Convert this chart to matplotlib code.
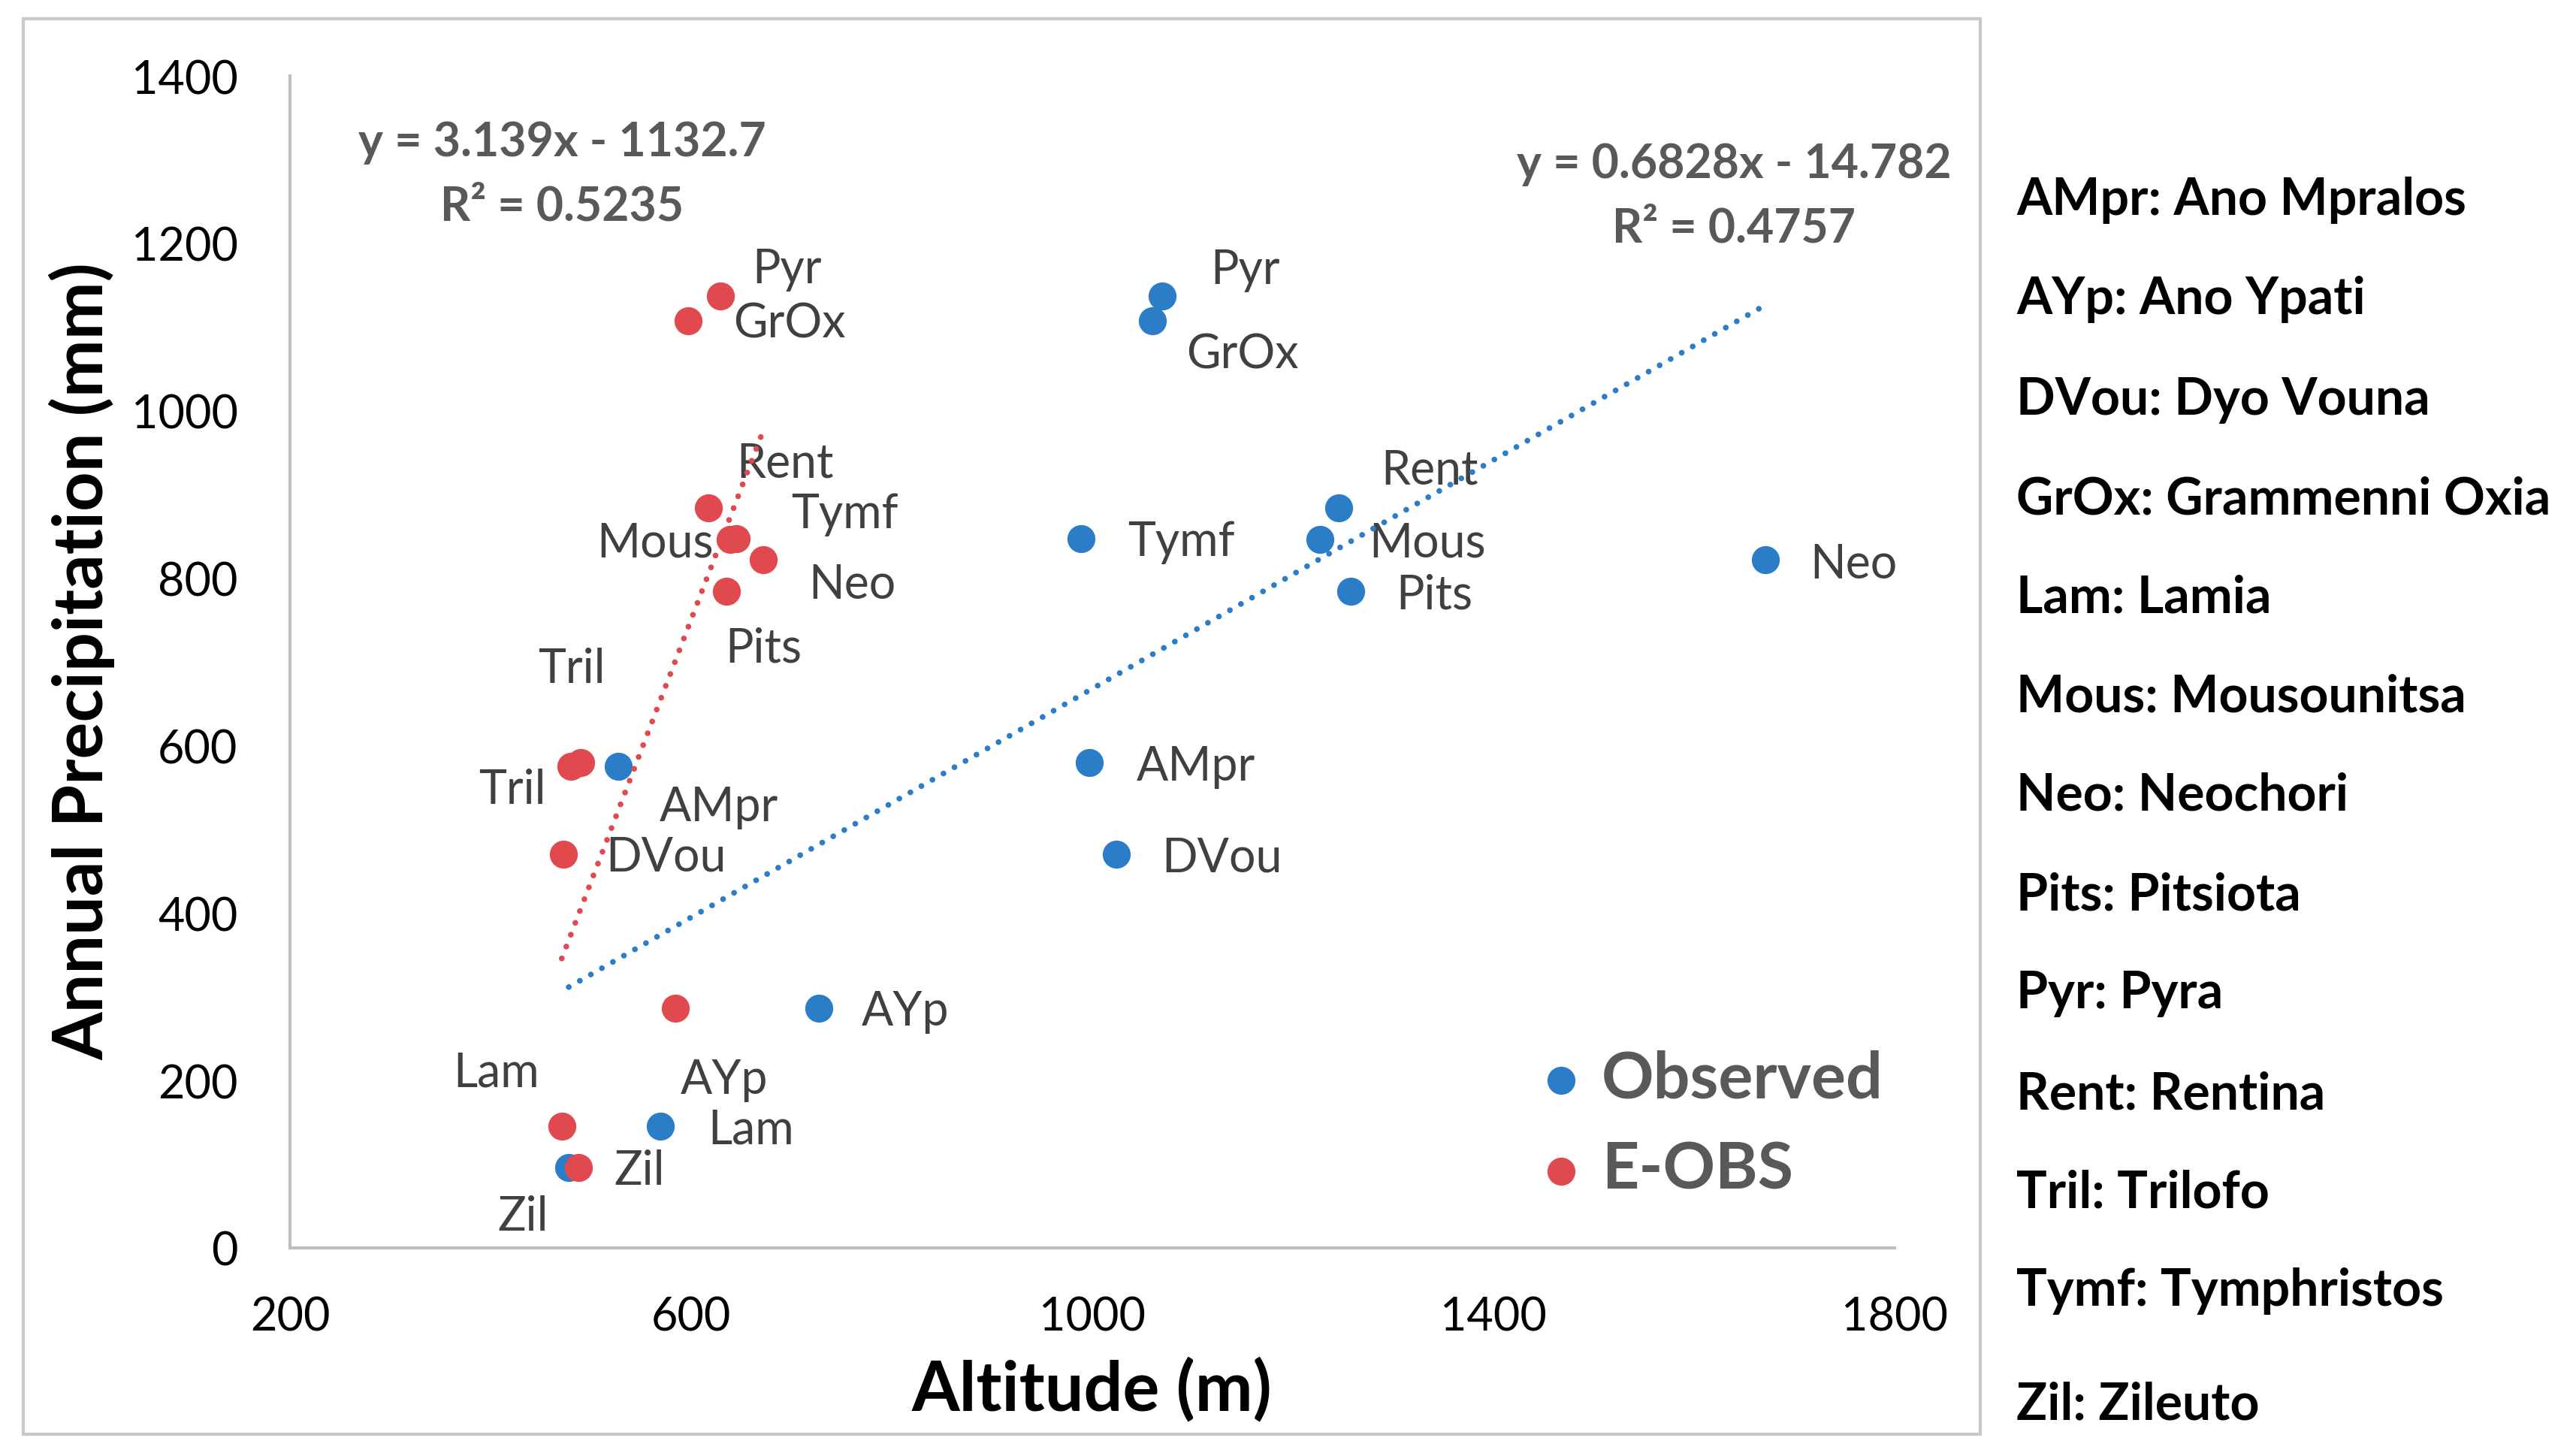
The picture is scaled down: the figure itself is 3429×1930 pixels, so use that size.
import matplotlib
matplotlib.use("Agg")
import matplotlib.pyplot as plt
from matplotlib.patches import Rectangle
import numpy as np

plt.rcParams['font.family'] = ['Lato', 'DejaVu Sans']

# station codes, annual precipitation (mm) and altitude (m) of each series
stations = ['Pyr', 'GrOx', 'Rent', 'Tymf', 'Mous', 'Pits', 'Neo',
            'AMpr', 'DVou', 'AYp', 'Lam', 'Tril', 'Zil']
precip = [1137, 1107, 884, 847, 846, 784, 822, 580, 470, 286, 145, 575, 96]
alt_obs = [1070, 1060, 1246, 989, 1227, 1258, 1671, 997, 1024, 727, 569, 527, 478]
alt_eobs = [629, 597, 617, 645, 639, 635, 672, 490, 473, 584, 471, 480, 488]

# linear trendlines as printed on the chart
fit_obs = [0.6828, -14.782, 0.4757]
fit_eobs = [3.139, -1132.7, 0.5235]

x_ticks = [200, 600, 1000, 1400, 1800]
y_ticks = [0, 200, 400, 600, 800, 1000, 1200, 1400]

station_names = ['AMpr: Ano Mpralos', 'AYp: Ano Ypati', 'DVou: Dyo Vouna',
                 'GrOx: Grammenni Oxia', 'Lam: Lamia', 'Mous: Mousounitsa',
                 'Neo: Neochori', 'Pits: Pitsiota', 'Pyr: Pyra', 'Rent: Rentina',
                 'Tril: Trilofo', 'Tymf: Tymphristos', 'Zil: Zileuto']

# label offsets (points) for the data labels
off_obs = {'Pyr': (79, 25), 'GrOx': (86, -32), 'Rent': (87, 36), 'Tymf': (96, -3),
           'Mous': (103, -3), 'Pits': (80, -3), 'Neo': (85, -4), 'AMpr': (102, -4),
           'DVou': (101, -3), 'AYp': (83, -3), 'Lam': (87, -3), 'Tril': (-101, -22),
           'Zil': (-44, -47)}
off_eobs = {'Pyr': (64, 26), 'GrOx': (97, -2), 'Rent': (74, 43), 'Tymf': (104, 24),
            'Mous': (-72, -3), 'Neo': (85, -24), 'Pits': (36, -54), 'Tril': (1, 94),
            'AMpr': (132, -43), 'DVou': (98, -2), 'AYp': (47, -68), 'Lam': (-63, 52),
            'Zil': (58, -3)}

BLUE = '#2a7dc6'
RED = '#e04a4e'
W, H = 3430, 1931


def fx(px):
    return px / W


def fy(py):
    return 1 - py / H


fig = plt.figure(figsize=(W / 100, H / 100), dpi=100)
ax = fig.add_axes([fx(386), fy(1662), fx(2522) - fx(386), fy(102) - fy(1662)])

fig.patches.append(Rectangle((fx(31), fy(1910)), fx(2636) - fx(31), fy(26) - fy(1910),
                             transform=fig.transFigure, fill=False,
                             edgecolor='#c8c8c8', lw=3, zorder=0))

ax.scatter(alt_obs, precip, s=720, color=BLUE, linewidths=0, zorder=2, label='Observed')
ax.scatter(alt_eobs, precip, s=720, color=RED, linewidths=0, zorder=2.1, label='E-OBS')

for xs, fit, col in [(alt_obs, fit_obs, BLUE), (alt_eobs, fit_eobs, RED)]:
    xl = np.array([min(xs), max(xs)])
    ax.plot(xl, fit[0] * xl + fit[1], color=col, lw=5.5,
            linestyle=(0, (0.01, 2.2)), dash_capstyle='round', zorder=4)

for xs, offs in [(alt_obs, off_obs), (alt_eobs, off_eobs)]:
    for name, xv, yv in zip(stations, xs, precip):
        ax.annotate(name, (xv, yv), xytext=offs[name], textcoords='offset points',
                    ha='center', va='center', fontsize=45, color='#404040', zorder=3)

ax.set_xlim(200, 1800)
ax.set_ylim(0, 1400)
ax.set_xticks(x_ticks)
ax.set_yticks(y_ticks)
ax.tick_params(length=0, labelsize=44, labelcolor='black')
ax.tick_params(axis='x', pad=46)
ax.tick_params(axis='y', pad=50)
for s in ['top', 'right']:
    ax.spines[s].set_visible(False)
for s in ['left', 'bottom']:
    ax.spines[s].set_color('#bfbfbf')
    ax.spines[s].set_linewidth(3)

fig.text(fx(1453), fy(1850), 'Altitude (m)', ha='center', va='center',
         fontsize=66, fontweight='bold', color='black')
fig.text(fx(109), fy(880), 'Annual Precipitation (mm)', ha='center', va='center',
         rotation=90, fontsize=66, fontweight='bold', color='black')

# trendline equations
for fit, cx, cy in [(fit_eobs, 748, 190), (fit_obs, 2308, 219)]:
    fig.text(fx(cx), fy(cy), f"y = {fit[0]}x - {abs(fit[1])}", ha='center', va='center',
             fontsize=45, fontweight='bold', color='#595959')
    fig.text(fx(cx), fy(cy + 86), f"R² = {fit[2]}", ha='center', va='center',
             fontsize=45, fontweight='bold', color='#595959')

leg = ax.legend(loc='upper left', bbox_to_anchor=(fx(2052), fy(1398)),
                bbox_transform=fig.transFigure, frameon=False, borderpad=0,
                borderaxespad=0, handlelength=0.6, handletextpad=0.33,
                labelspacing=0.48, prop={'size': 62, 'weight': 'bold'},
                labelcolor='#595959', scatterpoints=1)

# station name key on the right
ys = [267, 398, 532, 665, 796, 928, 1059, 1192, 1323, 1457, 1588, 1719, 1870]
for txt, yy in zip(station_names, ys):
    fig.text(fx(2684), fy(yy), txt, ha='left', va='center', fontsize=49,
             fontweight='bold', color='black')

fig.savefig('out.png', dpi=100, facecolor='white')
